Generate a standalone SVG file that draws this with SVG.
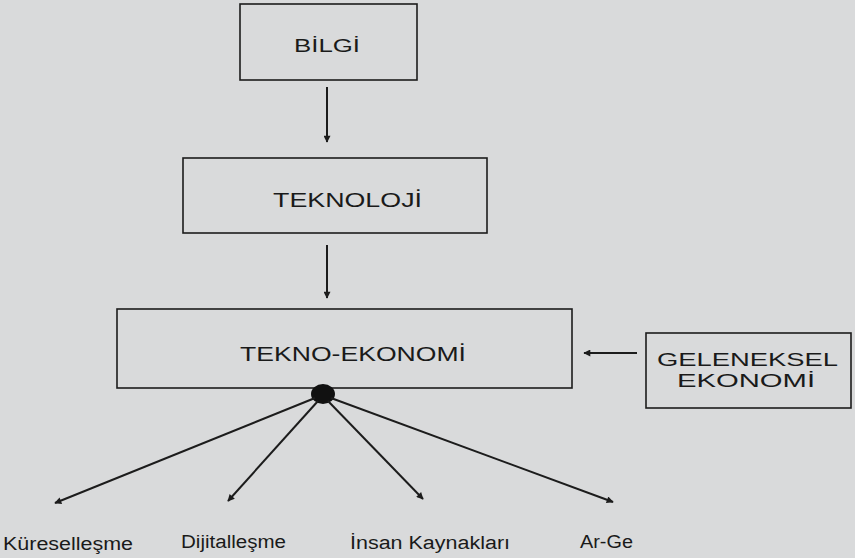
<svg xmlns="http://www.w3.org/2000/svg" width="855" height="558" viewBox="0 0 855 558">
  <style>
    .box { fill: none; stroke: #1c1c1c; stroke-width: 1.6; }
    .lbl { font-family: "Liberation Sans", Arial, sans-serif; fill: #1a1a1a; }
    .cap { font-size: 20px; }
    .sub { font-size: 18px; }
    .edge { fill: none; stroke: #1c1c1c; stroke-width: 2; marker-end: url(#arr); }
  </style>
  <defs>
    <marker id="arr" viewBox="0 0 10 10" refX="9" refY="5" markerWidth="9" markerHeight="7" markerUnits="userSpaceOnUse" orient="auto">
      <path d="M0,0 L10,5 L0,10 z" fill="#1c1c1c"/>
    </marker>
  </defs>
  <rect x="0" y="0" width="855" height="558" fill="#d9dadb"/>

  <g id="bilgi">
    <rect class="box" x="240" y="4" width="177" height="76"/>
    <text class="lbl" x="294" y="52" font-size="19" textLength="66" lengthAdjust="spacingAndGlyphs">BİLGİ</text>
  </g>
  <g id="teknoloji">
    <rect class="box" x="183" y="158" width="304" height="75"/>
    <text class="lbl cap" x="273" y="207" textLength="149" lengthAdjust="spacingAndGlyphs">TEKNOLOJİ</text>
  </g>
  <g id="tekno-ekonomi">
    <rect class="box" x="117" y="309" width="455" height="79"/>
    <text class="lbl" x="240" y="361" font-size="21" textLength="226" lengthAdjust="spacingAndGlyphs">TEKNO-EKONOMİ</text>
  </g>
  <g id="geleneksel-ekonomi">
    <rect class="box" x="646" y="333" width="205" height="75"/>
    <text class="lbl" x="657" y="366" font-size="19" textLength="181" lengthAdjust="spacingAndGlyphs">GELENEKSEL</text>
    <text class="lbl" x="677" y="387" font-size="19" textLength="138" lengthAdjust="spacingAndGlyphs">EKONOMİ</text>
  </g>
  <g id="hub">
    <ellipse cx="323" cy="394" rx="12" ry="10" fill="#111"/>
  </g>
  <g id="kuresellesme">
    <text class="lbl sub" x="3" y="550" textLength="130" lengthAdjust="spacingAndGlyphs">Küreselleşme</text>
  </g>
  <g id="dijitallesme">
    <text class="lbl sub" x="181" y="548" textLength="105" lengthAdjust="spacingAndGlyphs">Dijitalleşme</text>
  </g>
  <g id="insan-kaynaklari">
    <text class="lbl sub" x="350" y="549" textLength="160" lengthAdjust="spacingAndGlyphs">İnsan Kaynakları</text>
  </g>
  <g id="ar-ge">
    <text class="lbl sub" x="580" y="548" textLength="53" lengthAdjust="spacingAndGlyphs">Ar-Ge</text>
  </g>

  <g id="connectors">
    <line class="edge" x1="327" y1="87" x2="327" y2="142"/>
    <line class="edge" x1="327" y1="245" x2="327" y2="298"/>
    <line class="edge" x1="637" y1="353" x2="584" y2="353"/>
    <line class="edge" x1="315" y1="398" x2="55" y2="503"/>
    <line class="edge" x1="318" y1="401" x2="228" y2="501"/>
    <line class="edge" x1="328" y1="401" x2="423" y2="499"/>
    <line class="edge" x1="331" y1="398" x2="613" y2="502"/>
  </g>
</svg>
